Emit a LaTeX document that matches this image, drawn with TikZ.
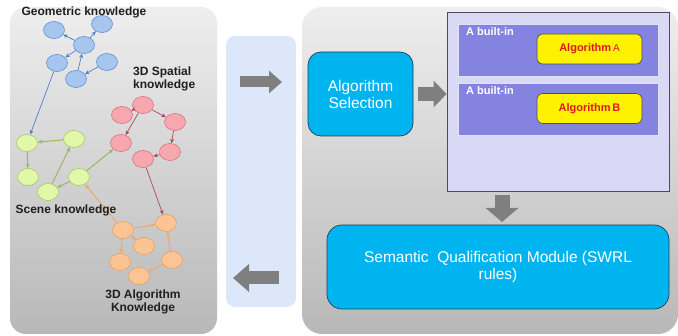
\documentclass[tikz,border=0pt]{standalone}
\usepackage{fontspec}
\setmainfont{Liberation Sans}
\usetikzlibrary{shapes.geometric,arrows.meta}
\definecolor{bfill}{HTML}{A6C6F0}
\definecolor{bdraw}{HTML}{5F8FD0}
\definecolor{bline}{HTML}{4F7FC8}
\definecolor{rfill}{HTML}{F6A8AE}
\definecolor{rdraw}{HTML}{D87080}
\definecolor{rline}{HTML}{A84858}
\definecolor{gfill}{HTML}{E0F8A8}
\definecolor{gdraw}{HTML}{A8C868}
\definecolor{gline}{HTML}{98B860}
\definecolor{ofill}{HTML}{FCC494}
\definecolor{odraw}{HTML}{E8A060}
\definecolor{oline}{HTML}{F0A868}
\definecolor{panelTop}{HTML}{EEEEEE}
\definecolor{panelBot}{HTML}{B8B8B8}
\definecolor{midblue}{HTML}{DCE8FA}
\definecolor{cyanbox}{HTML}{00B4F0}
\definecolor{boxedge}{HTML}{1F3F5F}
\definecolor{lavender}{HTML}{D9D9F5}
\definecolor{lavedge}{HTML}{4A4A60}
\definecolor{builtin}{HTML}{8484E0}
\definecolor{arrowgray}{HTML}{7F7F7F}
\definecolor{algred}{HTML}{E01818}
\begin{document}
\begin{tikzpicture}[x=1pt,y=-1pt,
  kn/.style={ellipse, minimum width=21pt, minimum height=17pt, inner sep=0pt, line width=0.6pt},
  bnode/.style={kn, draw=bdraw, fill=bfill},
  rnode/.style={kn, draw=rdraw, fill=rfill},
  gnode/.style={kn, draw=gdraw, fill=gfill},
  onode/.style={kn, draw=odraw, fill=ofill},
  kedge/.style={line width=0.7pt, -{Stealth[length=4.5pt,width=4pt]}},
  bedge/.style={kedge, draw=bline},
  redge/.style={kedge, draw=rline},
  gedge/.style={kedge, draw=gline, line width=1pt},
  oedge/.style={kedge, draw=oline, line width=1pt},
  lbl/.style={font=\bfseries\fontsize{12}{13}\selectfont, text=black!88, inner sep=0pt},
  panel/.style={rounded corners=16pt, top color=panelTop, bottom color=panelBot, draw=none},
  cyan/.style={draw=boxedge, line width=0.7pt, fill=cyanbox, rounded corners=13pt, text=white, align=center, font=\fontsize{15.5}{17}\selectfont},
  builtbox/.style={draw=white!75!builtin, line width=0.8pt, fill=builtin, minimum width=200pt, minimum height=52pt, inner sep=0pt},
  algbox/.style={draw=black!70, line width=0.6pt, fill=yellow, rounded corners=6pt, minimum width=105pt, minimum height=30pt, text=algred, font=\bfseries\fontsize{11}{12}\selectfont},
  bitext/.style={text=white, font=\bfseries\fontsize{11}{12}\selectfont, inner sep=0pt, anchor=north west},
  blockarr/.style={draw=arrowgray, line width=#1}
]
\useasboundingbox (0,0) rectangle (678,336);
\fill[white] (0,0) rectangle (678,336);

% panels
\shade[panel] (10,7) rectangle (217,334);
\node[fill=midblue, rounded corners=9pt, minimum width=70pt, minimum height=271pt, inner sep=0pt] (midp) at (261,171.5) {};
\shade[panel, rounded corners=20pt] (302,7) rectangle (678,334);

% knowledge graph nodes
\node[bnode] (b1) at (54,30) {};
\node[bnode] (b2) at (102,24) {};
\node[bnode] (b3) at (84,45) {};
\node[bnode] (b4) at (57,63) {};
\node[bnode] (b5) at (107,62) {};
\node[bnode] (b6) at (76,79) {};

\node[rnode] (r1) at (143,105) {};
\node[rnode] (r2) at (122,115) {};
\node[rnode] (r3) at (175,122) {};
\node[rnode] (r4) at (121,143) {};
\node[rnode] (r5) at (170,152) {};
\node[rnode] (r6) at (143,159) {};

\node[gnode] (g1) at (27,143) {};
\node[gnode] (g2) at (74,139) {};
\node[gnode] (g3) at (28,177) {};
\node[gnode] (g4) at (48,192) {};
\node[gnode] (g5) at (79,177) {};

\node[onode] (o1) at (123,230) {};
\node[onode] (o2) at (166,223) {};
\node[onode] (o3) at (144,246) {};
\node[onode] (o4) at (120,262) {};
\node[onode] (o5) at (172,260) {};
\node[onode] (o6) at (139,276) {};

% edges
\draw[bedge] (b3) -- (b1);
\draw[bedge] (b3) -- (b2);
\draw[bedge] (b3) -- (b4);
\draw[bedge] (b6) -- (b3);
\draw[bedge] (b5) -- (b6);
\draw[bedge] (b4) -- (g1);

\draw[redge] (r1) -- (r2);
\draw[redge] (r1) -- (r3);
\draw[redge] (r1) -- (r4);
\draw[redge] (r3) -- (r5);
\draw[redge] (r5) -- (r6);
\draw[redge] (r6) -- (o2);

\draw[gedge] (g2) -- (g1);
\draw[gedge] (g1) -- (g3);
\draw[gedge] (g4) -- (g2);
\draw[gedge] (g5) -- (g4);
\draw[gedge] (g5) -- (r4);

\draw[oedge] (o1) -- (g5);
\draw[oedge] (o1) -- (o2);
\draw[oedge] (o1) -- (o3);
\draw[oedge] (o1) -- (o4);
\draw[oedge] (o5) -- (o2);
\draw[oedge] (o5) -- (o6);

% labels
\node[lbl] (lgeo) at (84,12) {Geometric knowledge};
\node[lbl, anchor=north west, align=left] (lsp) at (133,67) {3D Spatial\\knowledge};
\node[lbl] (lsc) at (66,210) {Scene knowledge};
\node[lbl, align=center] (lalg) at (143,302) {3D Algorithm\\Knowledge};

% right side
\node[cyan, minimum width=105pt, minimum height=84pt, inner sep=0pt] (sel) at (360.5,94) {Algorithm\\Selection};
\node[draw=lavedge, line width=0.8pt, fill=lavender, minimum width=222pt, minimum height=179pt, inner sep=0pt] (lav) at (558,101.5) {};
\node[builtbox] (bi1) at (558,50) {};
\node[builtbox] (bi2) at (558,109) {};
\node[bitext] (bt1) at (466,27) {A built-in};
\node[bitext] (bt2) at (466,86) {A built-in};
\node[algbox] (alga) at (589.5,49) {Algorithm\,{\mdseries\fontsize{10}{12}\selectfont A}};
\node[algbox] (algb) at (589.5,108.5) {Algorithm\,B};
\node[cyan, rounded corners=15pt, minimum width=342pt, minimum height=84pt, inner sep=0pt] (sem) at (498,267) {Semantic\ \ Qualification Module (SWRL\\rules)};

% block arrows
\coordinate (inA) at (240,82);
\coordinate (inB) at (282,82);
\coordinate (outA) at (279,278);
\coordinate (outB) at (233,278);
\coordinate (dnA) at (502,195);
\coordinate (dnB) at (502,222);
\draw[blockarr=11pt, -{Triangle[length=13pt,width=22pt]}] (inA) -- (inB);
\draw[blockarr=13pt, -{Triangle[length=16pt,width=27pt]}] (outA) -- (outB);
\draw[blockarr=14pt, -{Triangle[length=13pt,width=26pt]}] ([xshift=5pt]sel.east) -- (sel.east -| lav.west);
\draw[blockarr=15pt, -{Triangle[length=14pt,width=32pt]}] (dnA) -- (dnB);
\end{tikzpicture}
\end{document}
